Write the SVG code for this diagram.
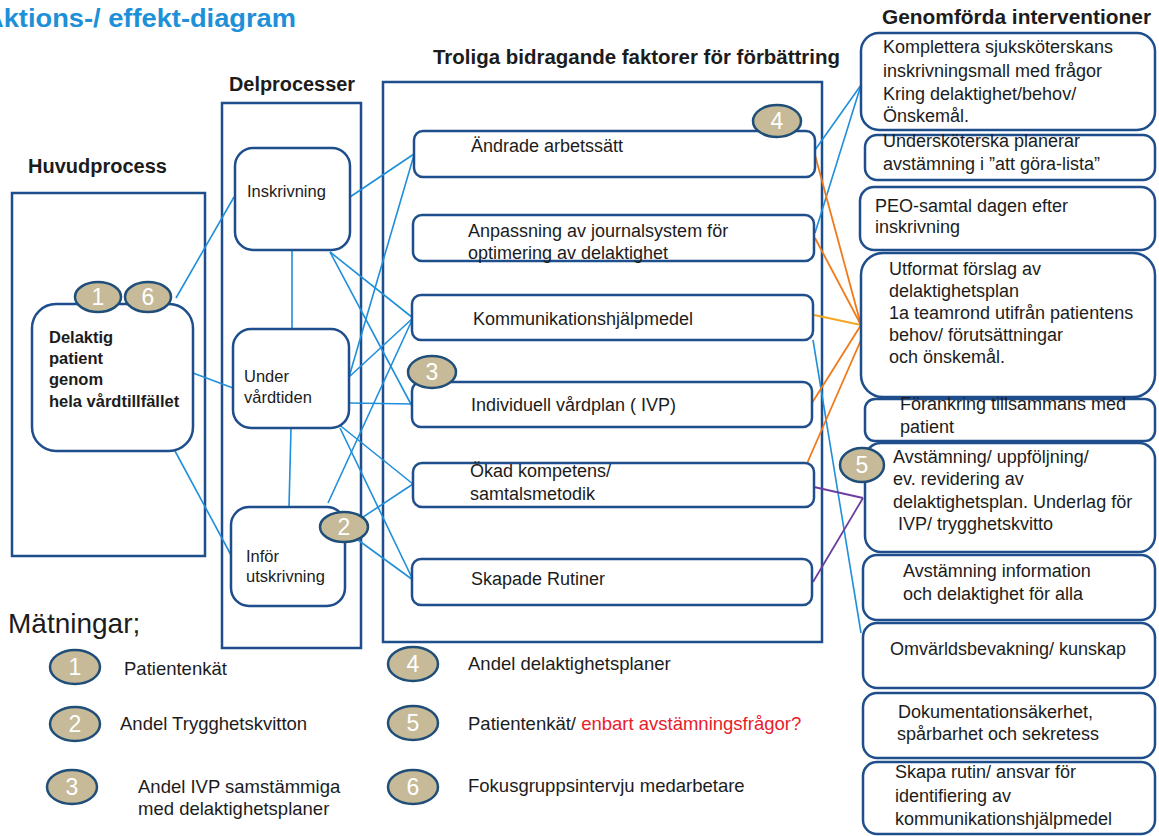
<svg xmlns="http://www.w3.org/2000/svg" width="1159" height="836" viewBox="0 0 1159 836">
<style>
.t{font-family:"Liberation Sans",Arial,sans-serif;fill:#1c1c1c}
.s16{font-size:16.5px}
.s18{font-size:18px}
.lg{font-size:18.5px}
.h{font-size:20px;font-weight:bold}
.b{font-weight:bold}
.outer{fill:none;stroke:#1f4e8c;stroke-width:2.5}
.node{fill:#fff;stroke:#1f4e8c;stroke-width:2.5}
.badge ellipse{fill:#c6ba98;stroke:#1f4e79;stroke-width:2.5}
.badge text{font-family:"Liberation Sans",Arial,sans-serif;font-size:23px;fill:#fff;text-anchor:middle}
.cb{stroke:#1f8fdb;stroke-width:1.6;fill:none}
.co{stroke:#f07a1a;stroke-width:1.8;fill:none}
.cy{stroke:#f5a623;stroke-width:1.8;fill:none}
.cp{stroke:#6b3fa0;stroke-width:1.8;fill:none}
</style>
<rect width="1159" height="836" fill="#fff"/>
<text x="-16" y="27" textLength="312" lengthAdjust="spacingAndGlyphs" style="font-family:'Liberation Sans',Arial,sans-serif;font-size:26px;font-weight:bold;fill:#1e90d8">Aktions-/ effekt-diagram</text>
<text class="t h" x="28" y="173" textLength="139" lengthAdjust="spacingAndGlyphs">Huvudprocess</text>
<text class="t h" x="229" y="91" textLength="126" lengthAdjust="spacingAndGlyphs">Delprocesser</text>
<text class="t h" x="433" y="64" textLength="407" lengthAdjust="spacingAndGlyphs">Troliga bidragande faktorer för förbättring</text>
<text class="t h" x="882" y="24" textLength="269" lengthAdjust="spacingAndGlyphs">Genomförda interventioner</text>

<g id="containers">
<rect class="outer" x="12" y="193" width="193" height="363"/>
<rect class="outer" x="222" y="103" width="139" height="545"/>
<rect class="outer" x="383" y="82" width="439" height="560"/>
</g>

<g id="connectors">
<path class="cb" d="M176,298 L234,197"/>
<path class="cb" d="M193,373 L233,388"/>
<path class="cb" d="M175,451 L231,555"/>
<path class="cb" d="M292,250 L292,329"/>
<path class="cb" d="M291,428 L289,507"/>
<path class="cb" d="M350,197 L414,154"/>
<path class="cb" d="M330,252 L413,318"/>
<path class="cb" d="M330,252 L413,408"/>
<path class="cb" d="M349,377 L414,155"/>
<path class="cb" d="M349,377 L413,318"/>
<path class="cb" d="M349,403 L413,404"/>
<path class="cb" d="M337,423 L413,484"/>
<path class="cb" d="M340,428 L413,580"/>
<path class="cb" d="M328,503 L413,318"/>
<path class="cb" d="M348,527 L413,484"/>
<path class="cb" d="M347,532 L413,580"/>
<path class="cb" d="M815,150 L861,85"/>
<path class="cb" d="M815,233 L861,85"/>
<path class="cb" d="M813,340 L861,633"/>
<path class="co" d="M815,155 L861,325"/>
<path class="co" d="M815,238 L861,325"/>
<path class="cy" d="M814,315 L861,325"/>
<path class="co" d="M812,403 L861,325"/>
<path class="co" d="M805,468 L861,340"/>
<path class="cp" d="M814,487 L863,498"/>
<path class="cp" d="M813,582 L863,498"/>
</g>

<g id="n-delaktig">
<rect class="node" x="32" y="304" width="161" height="147" rx="24"/>
<text class="t s16 b" x="49" y="343">Delaktig</text>
<text class="t s16 b" x="49" y="364">patient</text>
<text class="t s16 b" x="49" y="385">genom</text>
<text class="t s16 b" x="49" y="407">hela vårdtillfället</text>
</g>
<g id="n-inskrivning">
<rect class="node" x="235" y="148" width="115" height="102" rx="18"/>
<text class="t s16" x="247" y="197">Inskrivning</text>
</g>
<g id="n-under">
<rect class="node" x="233" y="329" width="116" height="99" rx="18"/>
<text class="t s16" x="244" y="382">Under</text>
<text class="t s16" x="244" y="403">vårdtiden</text>
</g>
<g id="n-infor">
<rect class="node" x="231" y="507" width="114" height="99" rx="18"/>
<text class="t s16" x="246" y="562">Inför</text>
<text class="t s16" x="246" y="582">utskrivning</text>
</g>

<g id="f-andrade">
<rect class="node" x="414" y="131" width="401" height="46" rx="9"/>
<text class="t s18" x="471" y="152">Ändrade arbetssätt</text>
</g>
<g id="f-anpassning">
<rect class="node" x="413" y="215" width="401" height="46" rx="9"/>
<text class="t s18" x="468" y="237">Anpassning av journalsystem för</text>
<text class="t s18" x="468" y="259">optimering av delaktighet</text>
</g>
<g id="f-kommunikation">
<rect class="node" x="412" y="295" width="401" height="45" rx="9"/>
<text class="t s18" x="473" y="325">Kommunikationshjälpmedel</text>
</g>
<g id="f-ivp">
<rect class="node" x="412" y="382" width="400" height="45" rx="9"/>
<text class="t s18" x="471" y="411">Individuell vårdplan ( IVP)</text>
</g>
<g id="f-kompetens">
<rect class="node" x="413" y="463" width="401" height="44" rx="9"/>
<text class="t s18" x="470" y="477">Ökad kompetens/</text>
<text class="t s18" x="470" y="500">samtalsmetodik</text>
</g>
<g id="f-rutiner">
<rect class="node" x="412" y="559" width="400" height="46" rx="9"/>
<text class="t s18" x="471" y="585">Skapade Rutiner</text>
</g>

<g id="r1">
<rect class="node" x="861" y="33" width="294" height="97" rx="18"/>
<text class="t s18" x="883" y="53">Komplettera sjuksköterskans</text>
<text class="t s18" x="883" y="77">inskrivningsmall med frågor</text>
<text class="t s18" x="883" y="100">Kring delaktighet/behov/</text>
<text class="t s18" x="883" y="122">Önskemål.</text>
</g>
<g id="r2">
<rect class="node" x="865" y="135" width="290" height="45" rx="12"/>
<text class="t s18" x="883" y="147">Undersköterska planerar</text>
<text class="t s18" x="883" y="170">avstämning i ”att göra-lista”</text>
</g>
<g id="r3">
<rect class="node" x="860" y="187" width="295" height="63" rx="14"/>
<text class="t s18" x="875" y="212">PEO-samtal dagen efter</text>
<text class="t s18" x="875" y="233">inskrivning</text>
</g>
<g id="r4">
<rect class="node" x="861" y="253" width="294" height="144" rx="22"/>
<text class="t s18" x="889" y="275">Utformat förslag av</text>
<text class="t s18" x="889" y="297">delaktighetsplan</text>
<text class="t s18" x="889" y="319">1a teamrond utifrån  patientens</text>
<text class="t s18" x="889" y="341">behov/ förutsättningar</text>
<text class="t s18" x="889" y="363">och önskemål.</text>
</g>
<g id="r5">
<rect class="node" x="865" y="399" width="290" height="42" rx="10"/>
<text class="t s18" x="900" y="410">Förankring tillsammans med</text>
<text class="t s18" x="900" y="433">patient</text>
</g>
<g id="r6">
<rect class="node" x="865" y="443" width="290" height="109" rx="16"/>
<text class="t s18" x="893" y="463">Avstämning/ uppföljning/</text>
<text class="t s18" x="893" y="485">ev. revidering av</text>
<text class="t s18" x="893" y="508">delaktighetsplan. Underlag för</text>
<text class="t s18" x="898" y="530">IVP/ trygghetskvitto</text>
</g>
<g id="r7">
<rect class="node" x="863" y="555" width="292" height="65" rx="14"/>
<text class="t s18" x="903" y="577">Avstämning information</text>
<text class="t s18" x="903" y="600">och delaktighet för alla</text>
</g>
<g id="r8">
<rect class="node" x="863" y="623" width="292" height="65" rx="14"/>
<text class="t s18" x="890" y="655">Omvärldsbevakning/ kunskap</text>
</g>
<g id="r9">
<rect class="node" x="863" y="693" width="292" height="65" rx="14"/>
<text class="t s18" x="898" y="718">Dokumentationsäkerhet,</text>
<text class="t s18" x="897" y="740">spårbarhet och sekretess</text>
</g>
<g id="r10">
<rect class="node" x="863" y="762" width="292" height="72" rx="14"/>
<text class="t s18" x="895" y="778">Skapa rutin/ ansvar för</text>
<text class="t s18" x="895" y="802">identifiering av</text>
<text class="t s18" x="895" y="825">kommunikationshjälpmedel</text>
</g>

<g id="badges" class="badge">
<ellipse cx="98" cy="297" rx="23" ry="15"/><text x="98" y="305">1</text>
<ellipse cx="148" cy="297" rx="23" ry="15"/><text x="148" y="305">6</text>
<ellipse cx="344" cy="527" rx="24" ry="15"/><text x="344" y="535">2</text>
<ellipse cx="432" cy="372" rx="24" ry="16"/><text x="432" y="380">3</text>
<ellipse cx="777" cy="121" rx="24" ry="16"/><text x="777" y="129">4</text>
<ellipse cx="862" cy="465" rx="22" ry="17"/><text x="862" y="473">5</text>
</g>

<g id="legend">
<text class="t" x="8" y="633" style="font-size:28px">Mätningar;</text>
<g class="badge">
<ellipse cx="75" cy="667" rx="25" ry="17"/><text x="75" y="675">1</text>
<ellipse cx="75" cy="724" rx="25" ry="17"/><text x="75" y="732">2</text>
<ellipse cx="72" cy="787" rx="25" ry="17"/><text x="72" y="795">3</text>
<ellipse cx="413" cy="664" rx="25" ry="17"/><text x="413" y="672">4</text>
<ellipse cx="413" cy="723" rx="25" ry="17"/><text x="413" y="731">5</text>
<ellipse cx="413" cy="787" rx="25" ry="17"/><text x="413" y="795">6</text>
</g>
<text class="t lg" x="124" y="675">Patientenkät</text>
<text class="t lg" x="120" y="730">Andel Trygghetskvitton</text>
<text class="t lg" x="138" y="793">Andel IVP samstämmiga</text>
<text class="t lg" x="138" y="815">med delaktighetsplaner</text>
<text class="t lg" x="468" y="670">Andel delaktighetsplaner</text>
<text class="t lg" x="468" y="730">Patientenkät/ <tspan style="fill:#e8202a">enbart avstämningsfrågor?</tspan></text>
<text class="t lg" x="468" y="792">Fokusgruppsintervju medarbetare</text>
</g>
</svg>
